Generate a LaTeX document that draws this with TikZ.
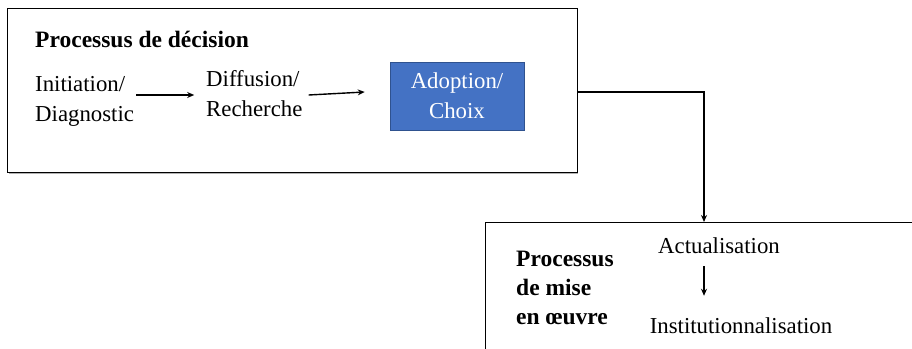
\documentclass[tikz,border=0pt]{standalone}
\usepackage{fontspec}
\setmainfont{Liberation Serif}
\usetikzlibrary{arrows.meta}
\definecolor{stepblue}{RGB}{68,114,196}
\definecolor{stepedge}{RGB}{47,82,143}
\begin{document}
\begin{tikzpicture}[x=1pt,y=-1pt,
  txt/.style={inner sep=0pt,align=left,font=\fontsize{22.8}{30}\selectfont},
  bold/.style={txt,font=\fontsize{23.5}{29}\selectfont\bfseries},
  frame/.style={draw=black,line width=1pt,inner sep=0pt},
  bluebox/.style={fill=stepblue,draw=stepedge,line width=0.6pt,inner sep=0pt,
    minimum width=134pt,minimum height=68pt,text=white,align=center,
    font=\fontsize{22.8}{30}\selectfont},
  flow/.style={line width=1.4pt,-{Stealth[length=7pt,width=6pt]}}]
\clip (0,0) rectangle (912,348);
\fill[white] (0,0) rectangle (912,348);

% decision process frame
\fill[gray!60] (9,172) rectangle (578,174);
\node[frame,minimum width=570pt,minimum height=164pt] (frame1) at (292,90) {};
\node[bold,anchor=base west] (title1) at (35,47) {Processus de décision};
\node[txt,anchor=west] (init) at (35,101) {Initiation/\\Diagnostic};
\node[txt,anchor=west] (diff) at (206,94) {Diffusion/\\Recherche};
\node[bluebox] (adopt) at (457,96) {Adoption/\\Choix};
\draw[flow] ([shift={(2,-6)}]init.east) -- ([shift={(60,-6)}]init.east);
\draw[flow] ([shift={(6,1)}]diff.east) -- ([shift={(-25,-4)}]adopt.west);

% implementation process frame
\node[frame,anchor=north west,minimum width=460pt,minimum height=160pt] (frame2) at (485,222) {};
\coordinate (arrX) at (704,0);
\node[bold,anchor=west] (title2) at (516,288) {Processus\\de mise\\en œuvre};
\node[txt] (act) at (719,246) {Actualisation};
\node[txt] (inst) at (741,326) {Institutionnalisation};
\draw[flow] (act.south -| arrX) ++(0,12) -- ([yshift=22pt]inst.north -| arrX);

% link between the two processes
\draw[flow] ([yshift=-2pt]frame1.east) -| (frame2.north -| arrX);
\end{tikzpicture}
\end{document}
